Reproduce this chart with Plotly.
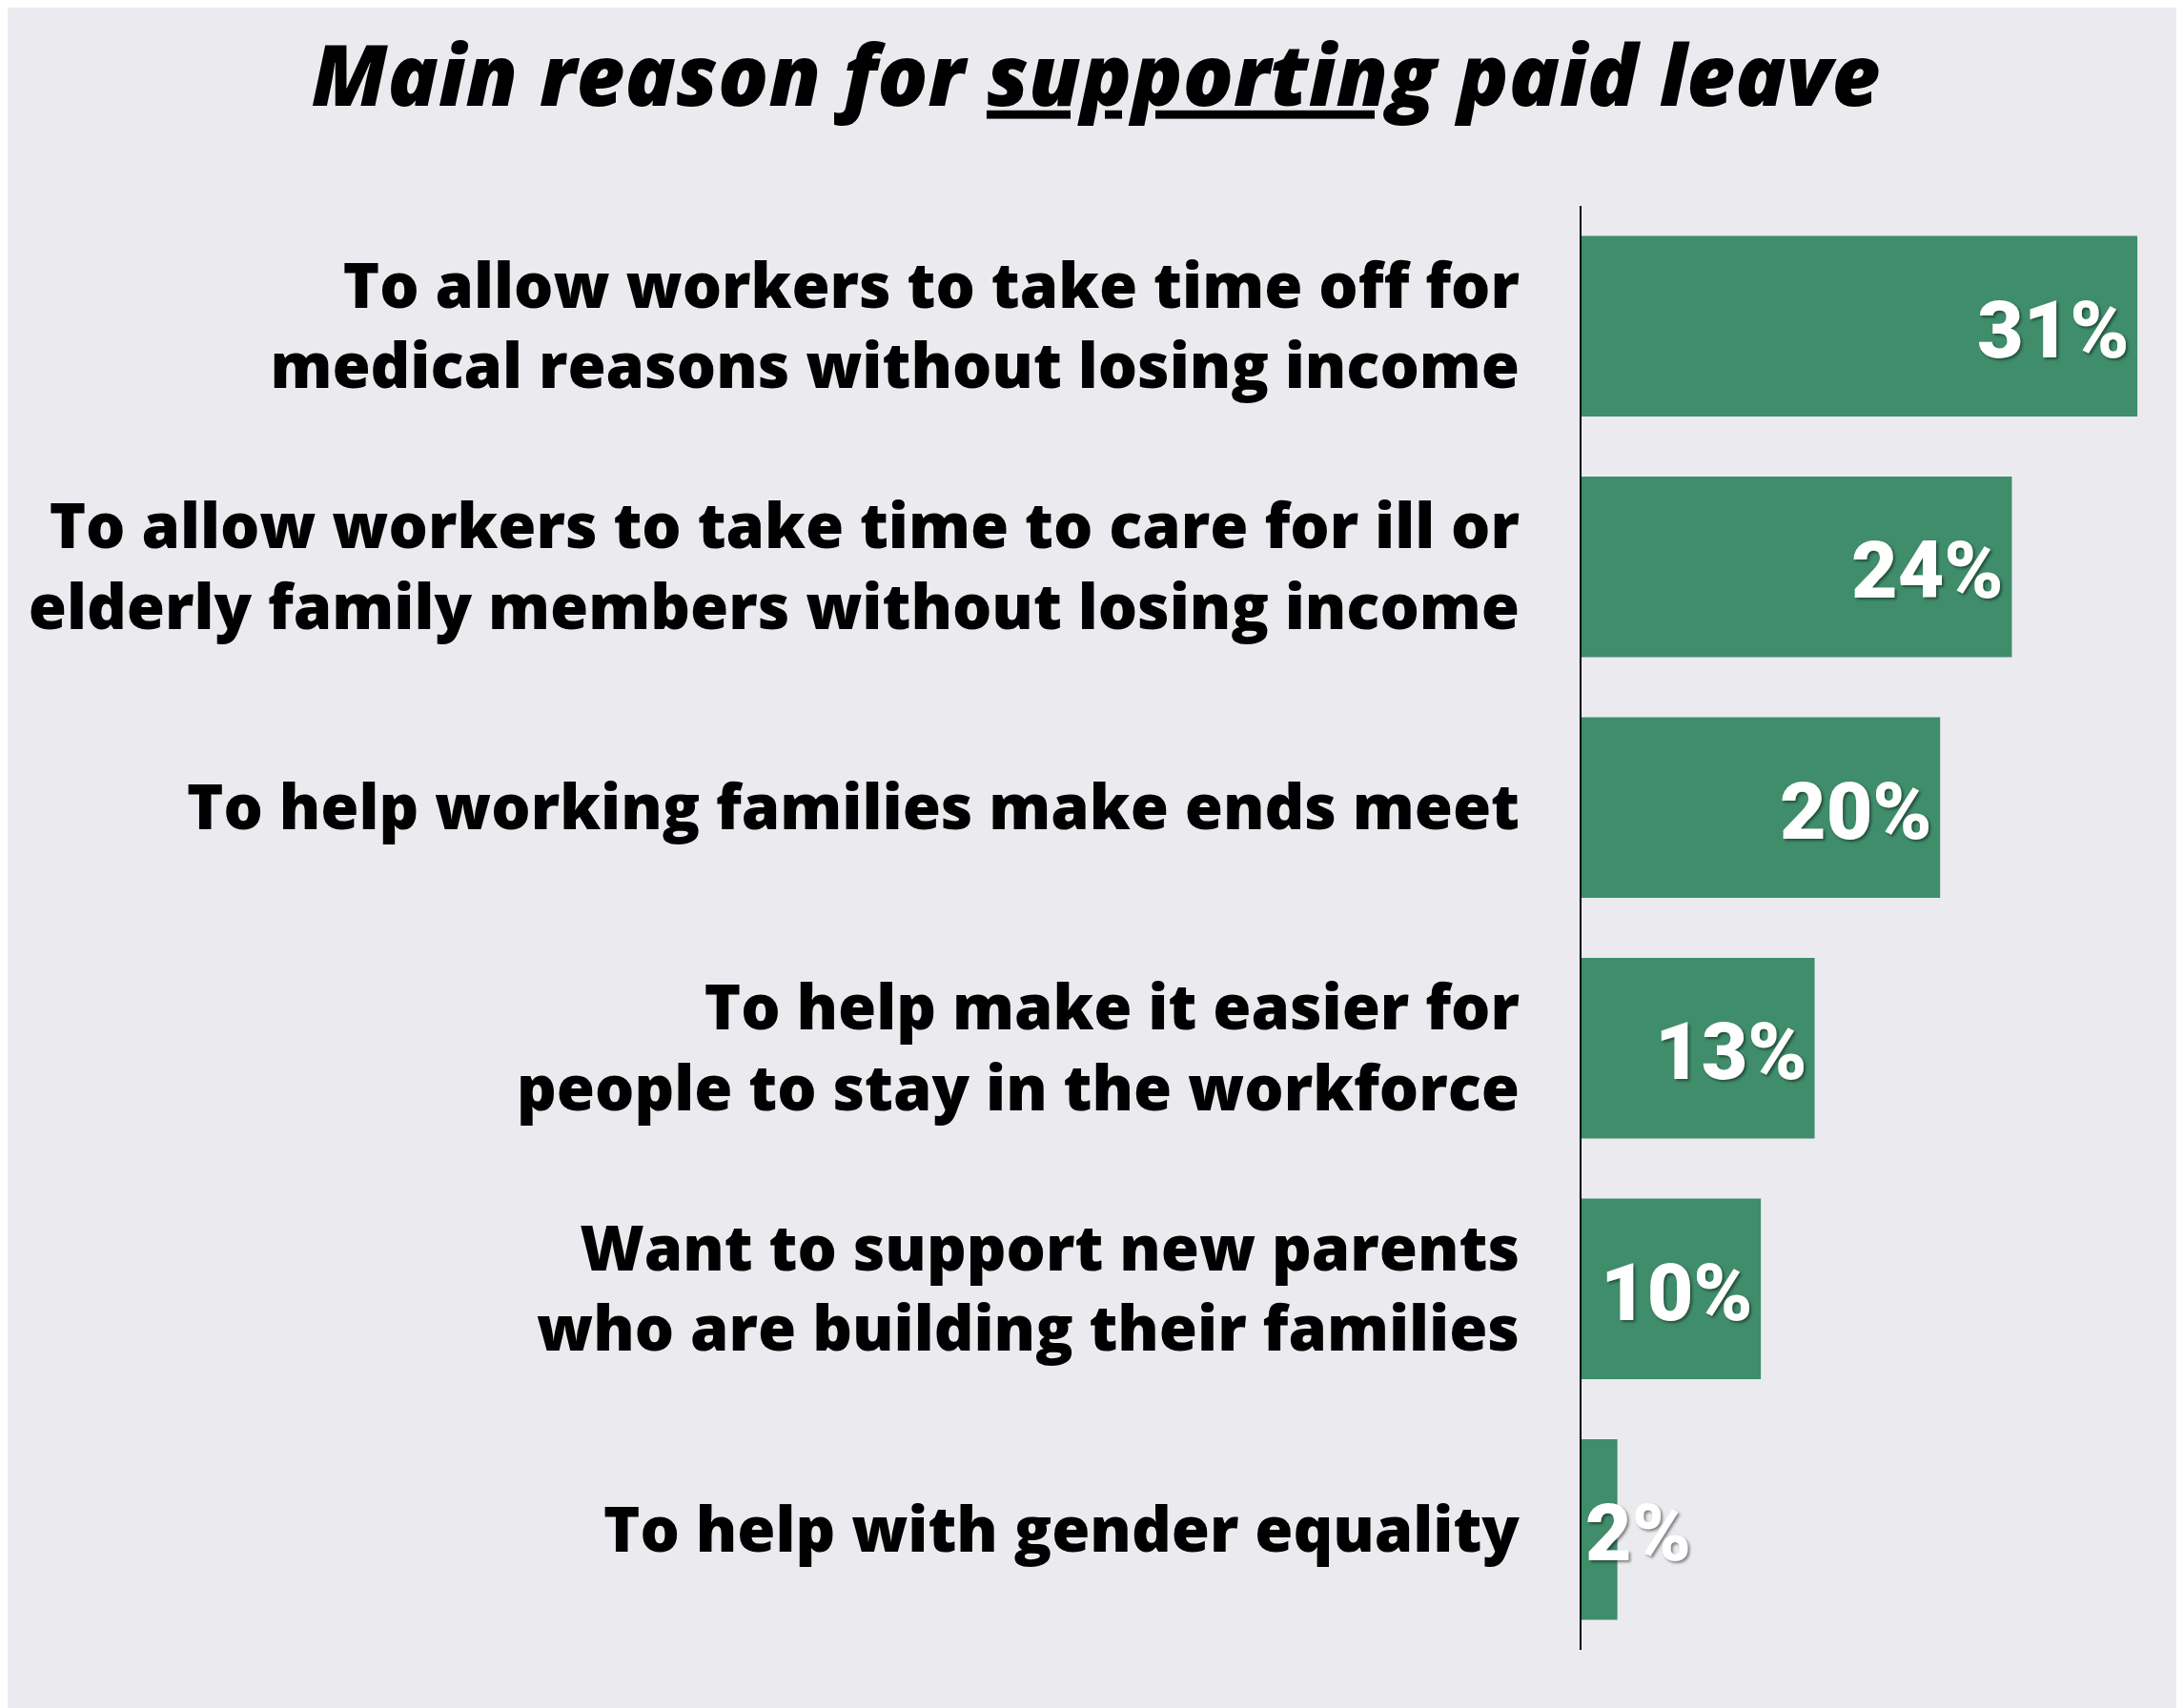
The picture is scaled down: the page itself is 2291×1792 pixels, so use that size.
import plotly.graph_objects as go

# Datos
razones = [
    "To allow workers to take time off for<br>medical reasons without losing income",
    "To allow workers to take time to care for ill or<br>elderly family members without losing income",
    "To help working families make ends meet",
    "To help make it easier for<br>people to stay in the workforce",
    "Want to support new parents<br>who are building their families",
    "To help with gender equality",
]
porcentajes = [31, 24, 20, 13, 10, 2]
etiquetas = ["31%", "24%", "20%", "13%", "10%", "2%"]

VERDE = "#3f8d6b"
FONDO = "#ebebef"

fig = go.Figure()
fig.add_trace(go.Bar(
    x=porcentajes, y=razones, orientation="h",
    marker=dict(color=VERDE, line=dict(width=0)),
    hoverinfo="skip",
))

# etiquetas de valor: dentro al final de la barra, o desde el eje si la barra es corta
for r, v, t in zip(razones, porcentajes, etiquetas):
    corta = v < 5
    fig.add_annotation(
        x=0 if corta else v, y=r, xref="x", yref="y",
        text=t, showarrow=False,
        xanchor="left" if corta else "right",
        xshift=2 if corta else -6, yshift=-4,
        font=dict(family="Roboto", size=84, color="white", weight=900,
                  shadow="2px 2px 3px rgba(0,0,0,0.45)"),
    )

fig.update_layout(
    width=2283, height=1784,
    paper_bgcolor=FONDO, plot_bgcolor=FONDO,
    margin=dict(l=1651, r=0, t=208, b=61),
    bargap=0.25, showlegend=False,
    title=dict(
        text="<i>Main reason for <u>supporting</u> paid leave</i>",
        x=0.5, xanchor="center", y=1 - 72 / 1784, yanchor="middle",
        font=dict(family="Open Sans", size=88, color="black", weight=800),
    ),
)
fig.update_xaxes(range=[0, 33.6], visible=False, showgrid=False, zeroline=False)
fig.update_yaxes(
    autorange="reversed", showgrid=False, zeroline=False,
    showline=True, linecolor="black", linewidth=2,
    ticks="", ticklabelstandoff=50,
    tickfont=dict(family="Open Sans", size=65, color="black", weight=800),
)

fig.write_html("out.html")
